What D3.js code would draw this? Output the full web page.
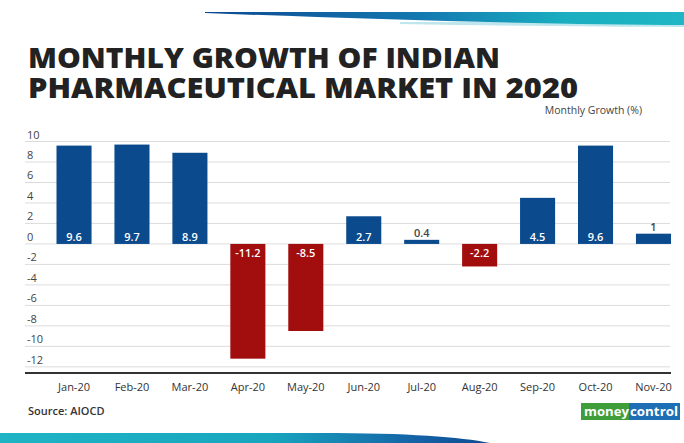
<!DOCTYPE html>
<html>
<head>
<meta charset="utf-8">
<script src="https://cdn.jsdelivr.net/npm/d3@7"></script>
<style>
  body { margin: 0; background: #fff; }
  text { font-family: "Open Sans", "Noto Sans", sans-serif; }
</style>
</head>
<body>
<div id="chart"></div>
<script>
// chart data
const months = ["Jan-20", "Feb-20", "Mar-20", "Apr-20", "May-20", "Jun-20", "Jul-20", "Aug-20", "Sep-20", "Oct-20", "Nov-20"];
const growth = [9.6, 9.7, 8.9, -11.2, -8.5, 2.7, 0.4, -2.2, 4.5, 9.6, 1];
const yTicks = [10, 8, 6, 4, 2, 0, -2, -4, -6, -8, -10, -12];
const titleLines = ["MONTHLY GROWTH OF INDIAN", "PHARMACEUTICAL MARKET IN 2020"];

const W = 684, H = 443;
const svg = d3.select("#chart").append("svg")
    .attr("width", W)
    .attr("height", H);

// gradients for the decorative bands
const defs = svg.append("defs");
const gTop = defs.append("linearGradient").attr("id", "gTop");
gTop.append("stop").attr("offset", "0%").attr("stop-color", "#0c4a92");
gTop.append("stop").attr("offset", "45%").attr("stop-color", "#1478b0");
gTop.append("stop").attr("offset", "75%").attr("stop-color", "#1aaec0");
gTop.append("stop").attr("offset", "100%").attr("stop-color", "#20b6c4");
const gBot = defs.append("linearGradient").attr("id", "gBot");
gBot.append("stop").attr("offset", "0%").attr("stop-color", "#1fb4c4");
gBot.append("stop").attr("offset", "55%").attr("stop-color", "#18a6bf");
gBot.append("stop").attr("offset", "85%").attr("stop-color", "#1462a6");
gBot.append("stop").attr("offset", "100%").attr("stop-color", "#0e4a90");

// top band
svg.append("path")
    .attr("d", "M400,24 C520,26 620,27 684,27 L684,22 L400,22 Z")
    .attr("fill", "#bfe6ec");
svg.append("path")
    .attr("d", "M205,12 L684,12 L684,25 C560,25 360,19 205,13 Z")
    .attr("fill", "url(#gTop)");

// bottom band
svg.append("path")
    .attr("d", "M0,433 L320,433 C410,433 460,437 490,443 L0,443 Z")
    .attr("fill", "url(#gBot)");

// title
svg.selectAll(".title")
    .data(titleLines)
    .enter().append("text")
    .attr("class", "title")
    .attr("x", 28)
    .attr("y", (d, i) => 68 + i * 30)
    .attr("textLength", (d, i) => i === 0 ? 472 : 550)
    .attr("lengthAdjust", "spacingAndGlyphs")
    .attr("font-size", 28)
    .attr("font-weight", 800)
    .attr("fill", "#222")
    .text(d => d);

svg.append("text")
    .attr("x", 642)
    .attr("y", 114)
    .attr("text-anchor", "end")
    .attr("font-size", 10.5)
    .attr("fill", "#444")
    .text("Monthly Growth (%)");

// scales
const x = d3.scaleBand()
    .domain(months)
    .range([56.5, 671])
    .paddingInner(0.395)
    .paddingOuter(0);

const y = d3.scaleLinear()
    .domain([-12.6, 10])
    .range([373, 141.5]);

// gridlines + y labels
const grid = svg.append("g");
grid.selectAll("line")
    .data(yTicks)
    .enter().append("line")
    .attr("x1", 25)
    .attr("x2", 670)
    .attr("y1", d => y(d))
    .attr("y2", d => y(d))
    .attr("stroke", "#dcdcdc")
    .attr("stroke-width", 1);

grid.selectAll("text")
    .data(yTicks)
    .enter().append("text")
    .attr("x", 27)
    .attr("y", d => y(d) - 3)
    .attr("font-size", 11)
    .attr("fill", "#444")
    .text(d => d);

// bars
svg.selectAll(".bar")
    .data(growth)
    .enter().append("rect")
    .attr("class", "bar")
    .attr("x", (d, i) => x(months[i]))
    .attr("width", x.bandwidth())
    .attr("y", d => y(Math.max(0, d)))
    .attr("height", d => Math.abs(y(d) - y(0)))
    .attr("fill", d => d >= 0 ? "#0b4a8c" : "#a20d0e");

// value labels
svg.selectAll(".val")
    .data(growth)
    .enter().append("text")
    .attr("class", "val")
    .attr("x", (d, i) => x(months[i]) + x.bandwidth() / 2)
    .attr("y", d => {
        if (d < 0) return y(0) + 13;
        if (d < 2) return y(d) - 3;
        return y(0) - 3;
    })
    .attr("text-anchor", "middle")
    .attr("font-size", 11)
    .attr("font-weight", 600)
    .attr("fill", d => (d >= 0 && d < 2) ? "#444" : "#fff")
    .text(d => d);

// x axis line
svg.append("line")
    .attr("x1", 25)
    .attr("x2", 671)
    .attr("y1", 373)
    .attr("y2", 373)
    .attr("stroke", "#333")
    .attr("stroke-width", 2);

const xAxis = svg.append("g")
    .attr("transform", "translate(0,373)")
    .call(d3.axisBottom(x).tickSize(0).tickPadding(10));
xAxis.select(".domain").remove();
xAxis.selectAll("text")
    .attr("font-family", "'Open Sans', sans-serif")
    .attr("font-size", 11)
    .attr("fill", "#333");

// source
svg.append("text")
    .attr("x", 28)
    .attr("y", 415)
    .attr("font-size", 11)
    .attr("font-weight", 600)
    .attr("fill", "#333")
    .text("Source: AIOCD");

// moneycontrol logo
const logo = svg.append("g").attr("transform", "translate(581,403)");
logo.append("rect").attr("width", 48).attr("height", 17).attr("fill", "#3f9e3a");
logo.append("rect").attr("x", 48).attr("width", 51).attr("height", 17).attr("fill", "#1d6fb5");
logo.append("text").attr("x", 3).attr("y", 13)
    .attr("font-size", 12.5).attr("font-weight", 700).attr("fill", "#fff")
    .attr("textLength", 45).attr("lengthAdjust", "spacingAndGlyphs")
    .text("money");
logo.append("text").attr("x", 49).attr("y", 13)
    .attr("font-size", 12.5).attr("font-weight", 700).attr("fill", "#fff")
    .attr("textLength", 48).attr("lengthAdjust", "spacingAndGlyphs")
    .text("control");
</script>
</body>
</html>
